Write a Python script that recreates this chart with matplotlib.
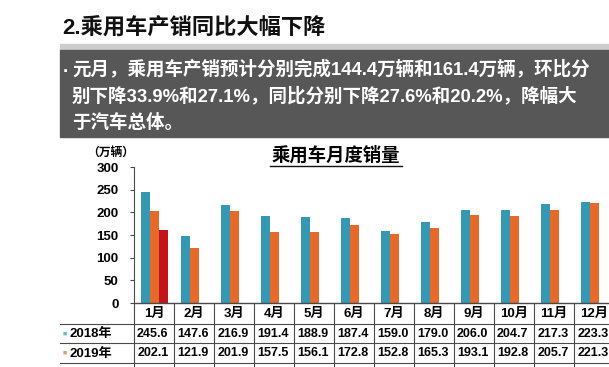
import numpy as np
import matplotlib
matplotlib.use("Agg")
import matplotlib.pyplot as plt
from matplotlib.patches import Rectangle
from matplotlib.lines import Line2D

plt.rcParams['font.family'] = ['Liberation Sans', 'Noto Sans CJK SC']

# ---------------- data ----------------
months = ["1月", "2月", "3月", "4月", "5月", "6月",
          "7月", "8月", "9月", "10月", "11月", "12月"]
sales_2018 = [245.6, 147.6, 216.9, 191.4, 188.9, 187.4, 159.0, 179.0, 206.0, 204.7, 217.3, 223.3]
sales_2019 = [202.1, 121.9, 201.9, 157.5, 156.1, 172.8, 152.8, 165.3, 193.1, 192.8, 205.7, 221.3]
sales_2020 = [161.4]          # only January 2020
row_labels = ["2018年", "2019年"]

heading = "2.乘用车产销同比大幅下降"
bullet_lines = ["元月，乘用车产销预计分别完成144.4万辆和161.4万辆，环比分",
                "别下降33.9%和27.1%，同比分别下降27.6%和20.2%，降幅大",
                "于汽车总体。"]
chart_title = "乘用车月度销量"
unit_label = "（万辆）"

teal = "#3599b3"
orange = "#e6692c"
red = "#c3141c"
line_col = "#4a4a4a"

W, H = 609, 367
fx = lambda px: px / W
fy = lambda py: 1 - py / H

fig = plt.figure(figsize=(W / 100, H / 100), dpi=100)

# ---------------- slide header ----------------
fig.text(fx(62), fy(29), heading, fontsize=16, fontweight='bold', va='center', color='#111111')
fig.patches.append(Rectangle((fx(60), fy(50)), fx(609) - fx(60), 6 / H,
                             transform=fig.transFigure, color='#cdcdcd', zorder=0))
fig.patches.append(Rectangle((fx(60), fy(137)), fx(609) - fx(60), 87 / H,
                             transform=fig.transFigure, color='#575757', zorder=0))
fig.text(fx(63), fy(73), "·", fontsize=13.5, color='white', va='center', ha='left',
         fontweight='bold')
for i, line in enumerate(bullet_lines):
    fig.text(fx(72), fy(69 + 27 * i), line, fontsize=13.3, color='white',
             va='center', ha='left', fontweight='bold')

# ---------------- bar chart ----------------
ax = fig.add_axes([fx(134), fy(303), 480 / W, 136 / H])
x = np.arange(len(months))
w = 0.225
ax.bar(x - w, sales_2018, w, color=teal)
ax.bar(x, sales_2019, w, color=orange)
ax.bar(x[:len(sales_2020)] + w, sales_2020, w, color=red)
ax.set_xlim(-0.5, 11.5)
ax.set_ylim(0, 300)
ax.set_yticks(np.arange(0, 301, 50))
ax.set_xticks([])
for s in ["top", "right", "bottom"]:
    ax.spines[s].set_visible(False)
ax.spines["left"].set_color(line_col)
ax.spines["left"].set_linewidth(0.8)
ax.tick_params(axis='y', length=3, width=0.8, color=line_col, pad=8, labelsize=9.5)
for lab in ax.get_yticklabels():
    lab.set_fontweight('bold')

fig.text(fx(111), fy(153), unit_label, fontsize=8.5, fontweight='bold', ha='center', va='center')
fig.text(fx(336), fy(156), chart_title, fontsize=13.2, fontweight='bold', ha='center', va='center')
fig.lines.append(Line2D([fx(270), fx(402)], [fy(166), fy(166)], transform=fig.transFigure,
                        color='#111111', lw=1))

# ---------------- data table ----------------
tax = fig.add_axes([fx(60), 0, (614 - 60) / W, fy(303)])
left = -0.5 - 74 / 40
tax.set_xlim(left, 11.5)
tax.set_ylim(367, 303)
tax.axis('off')

tax.plot([-0.5, 11.5], [303, 303], color=line_col, lw=1, clip_on=False)
for yy in [324, 343, 363]:
    tax.plot([left, 11.5], [yy, yy], color=line_col, lw=0.8, clip_on=False)
for k in range(13):
    tax.plot([-0.5 + k, -0.5 + k], [303, 367], color=line_col, lw=0.8, clip_on=False)

for i, m in enumerate(months):
    tax.text(i, 314, m, ha='center', va='center', fontsize=9.5, fontweight='bold')
for i, (a, b) in enumerate(zip(sales_2018, sales_2019)):
    tax.text(i - 0.03, 334, f"{a:.1f}", ha='center', va='center', fontsize=9, fontweight='bold')
    tax.text(i - 0.03, 353.5, f"{b:.1f}", ha='center', va='center', fontsize=9, fontweight='bold')

for yy, lab, col in zip([334, 353.5], row_labels, [teal, orange]):
    tax.text(left + 0.13, yy, "■", ha='center', va='center', fontsize=5, color=col, alpha=0.7)
    tax.text(left + 0.25, yy, lab, ha='left', va='center', fontsize=9.5, fontweight='bold')

fig.savefig("out.png", dpi=100)
